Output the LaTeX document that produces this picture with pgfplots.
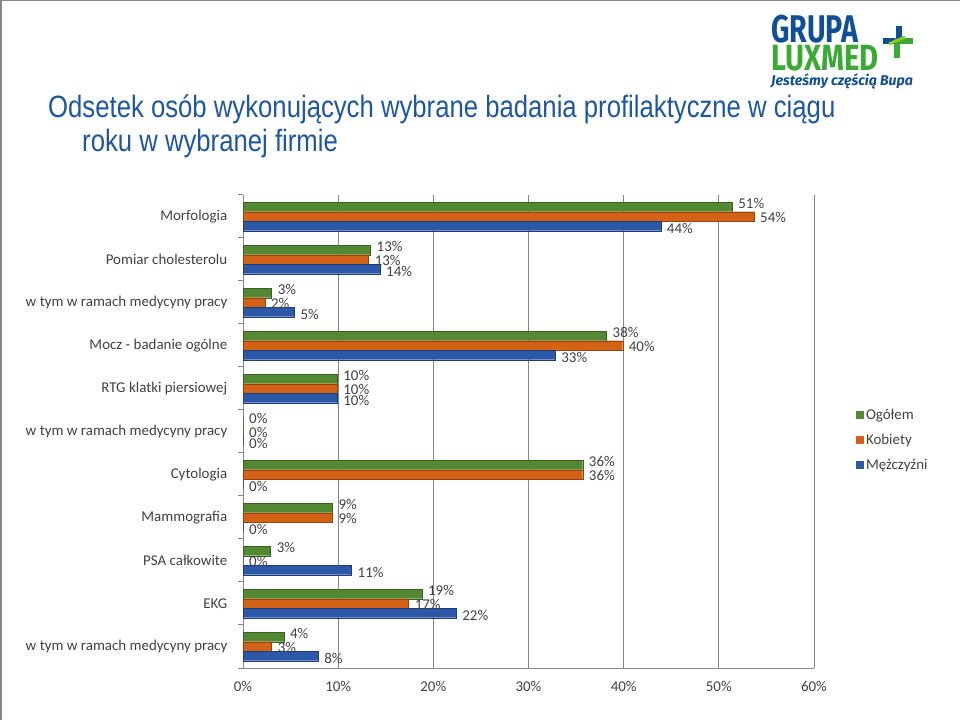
\documentclass[border=0pt]{standalone}
\usepackage{pgfplots}
\pgfplotsset{compat=1.18}
\usepackage{fontspec}
\setmainfont{Carlito}
\newfontfamily\titlefont{Liberation Sans}
\newfontfamily\logofont{Fira Sans}
\definecolor{cgreen}{RGB}{84,137,52}
\definecolor{corange}{RGB}{212,98,22}
\definecolor{cblue}{RGB}{45,88,168}
\definecolor{ctext}{RGB}{64,64,64}
\definecolor{ctitle}{RGB}{31,86,160}
\definecolor{cgrid}{RGB}{134,134,134}
\definecolor{logoblue}{RGB}{16,78,150}
\definecolor{logogreen}{RGB}{58,170,53}
\begin{document}
\begin{tikzpicture}
\path[use as bounding box] (0bp,0bp) rectangle (960bp,720bp);
\draw[cgrid,line width=1.5bp] (0.75bp,0bp) -- (0.75bp,719.25bp) -- (960bp,719.25bp);
% logo
\node[anchor=base west,inner sep=0,text=logoblue] at (771bp,677bp) {\scalebox{1}[1.35]{\logofont\bfseries\fontsize{28.7}{28.7}\selectfont GRUPA}};
\node[anchor=base west,inner sep=0,text=logogreen] at (771bp,649bp) {\scalebox{1}[1.25]{\logofont\bfseries\fontsize{29.3}{29.3}\selectfont LUXMED}};
\node[anchor=base west,inner sep=0,text=logoblue] at (771bp,634bp) {\logofont\bfseries\itshape\fontsize{14.2}{14.2}\selectfont Jesteśmy częścią Bupa};
\draw[logogreen,line width=6bp] (897bp,679bp) -- (913bp,679bp);
\draw[logogreen,line width=6bp] (897bp,682bp) -- (897bp,662bp);
\draw[logoblue,line width=6bp] (883bp,679bp) -- (895bp,679bp);
\draw[logoblue,line width=6bp] (899bp,694bp) -- (899bp,681bp);
\draw[logogreen!60!yellow,line width=3bp] (889bp,676bp) -- (905bp,683bp);
% title
\node[anchor=base west,inner sep=0,text=ctitle] at (48bp,602bp) {\scalebox{1}[1.2]{\titlefont\fontsize{25.8}{25.8}\selectfont Odsetek osób wykonujących wybrane badania profilaktyczne w ciągu}};
\node[anchor=base west,inner sep=0,text=ctitle] at (82bp,568bp) {\scalebox{1}[1.2]{\titlefont\fontsize{25.8}{25.8}\selectfont roku w wybranej firmie}};
\begin{axis}[
  at={(243bp,52bp)}, anchor=south west,
  scale only axis, width=571bp, height=473bp,
  xbar, bar width=9.5bp,
  xmin=0, xmax=60, ymin=-0.5, ymax=10.5,
  /pgf/number format/assume math mode=true,
  xtick={0,10,...,60},
  xticklabel={\pgfmathprintnumber{\tick}\%},
  ytick={0,...,10},
  yticklabels={w tym w ramach medycyny pracy,EKG,PSA całkowite,Mammografia,Cytologia,w tym w ramach medycyny pracy,RTG klatki piersiowej,Mocz - badanie ogólne,w tym w ramach medycyny pracy,Pomiar cholesterolu,Morfologia},
  minor ytick={-0.5,0.5,...,10.5},
  major y tick style={draw=none},
  minor tick length=5bp,
  tick align=outside,
  x tick style={draw=none},
  axis x line*=bottom, axis y line*=left,
  axis line style={cgrid,line width=1bp,-},
  minor y tick style={cgrid,line width=1bp},
  xmajorgrids, grid style={cgrid,line width=1bp},
  tick label style={font=\fontsize{15}{15}\selectfont, text=ctext},
  xticklabel style={yshift=-6bp},
  yticklabel style={xshift=-8bp},
  nodes near coords={\pgfmathprintnumber[fixed,precision=0]{\pgfplotspointmeta}\%},
  every node near coord/.append style={font=\fontsize{15}{15}\selectfont, text=ctext, anchor=west, inner sep=2bp, xshift=4bp},
  legend style={at={(1.068,0.556)}, anchor=north west, draw=none, fill=none, font=\fontsize{15}{15}\selectfont, text=ctext, row sep=9bp},
  legend cell align=left,
  legend image code/.code={\fill[#1,draw=none] (0bp,-4bp) rectangle (8bp,4bp);},
]
\addplot[fill=cgreen, draw=cgreen!70!black, bar shift=9.5bp, every node near coord/.append style={yshift=4bp}] coordinates {
(4.3,0) (18.8,1) (2.9,2) (9.4,3) (35.7,4) (0,5) (9.9,6) (38.2,7) (3.0,8) (13.4,9) (51.4,10)};
\addplot[fill=corange, draw=corange!70!black, bar shift=0bp, every node near coord/.append style={yshift=-1bp}] coordinates {
(3.0,0) (17.4,1) (0,2) (9.4,3) (35.7,4) (0,5) (9.9,6) (39.9,7) (2.3,8) (13.2,9) (53.7,10)};
\addplot[fill=cblue, draw=cblue!70!black, bar shift=-9.5bp, every node near coord/.append style={yshift=-2bp}] coordinates {
(7.9,0) (22.4,1) (11.4,2) (0,3) (0,4) (0,5) (9.9,6) (32.8,7) (5.4,8) (14.4,9) (43.9,10)};
\legend{Ogółem,Kobiety,Mężczyźni}
\end{axis}
\end{tikzpicture}
\end{document}
